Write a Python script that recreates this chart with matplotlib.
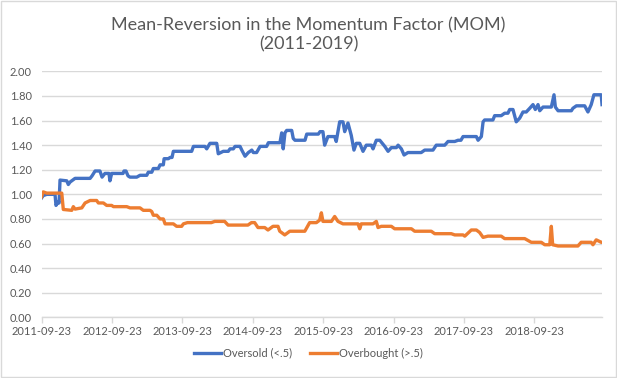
import matplotlib.pyplot as plt
import matplotlib.patches as patches
import pandas as pd

# values (days counted from 2011-09-23)
start = pd.Timestamp('2011-09-23')

oversold_days = [0, 9, 27, 70, 75, 87, 91, 96, 131, 139, 148, 174, 252, 262, 278, 303,
                 314, 329, 350, 355, 364, 423, 428, 438, 449, 459, 494, 511, 546, 554,
                 572, 580, 606, 615, 632, 636, 658, 667, 677, 684, 779, 788, 848, 857,
                 874, 909, 917, 943, 969, 978, 995, 1004, 1030, 1039, 1056, 1073, 1091,
                 1099, 1116, 1134, 1168, 1177, 1237, 1246, 1254, 1263, 1272, 1298, 1306,
                 1315, 1367, 1376, 1436, 1445, 1460, 1469, 1486, 1521, 1529, 1547, 1564,
                 1573, 1590, 1607, 1621, 1633, 1651, 1668, 1685, 1711, 1720, 1737, 1755,
                 1781, 1798, 1815, 1841, 1850, 1867, 1881, 1901, 1970, 1988, 2031, 2048,
                 2092, 2109, 2144, 2161, 2176, 2187, 2256, 2265, 2282, 2291, 2299, 2342,
                 2351, 2385, 2403, 2420, 2429, 2446, 2463, 2481, 2498, 2515, 2533, 2550,
                 2562, 2576, 2585, 2602, 2645, 2659, 2666, 2680, 2749, 2757, 2775, 2818,
                 2835, 2852, 2866, 2904, 2908]
oversold = [0.97, 0.99, 1.00, 1.00, 0.91, 0.94, 0.93, 1.116, 1.11, 1.08, 1.10, 1.13,
            1.13, 1.15, 1.19, 1.19, 1.14, 1.17, 1.17, 1.11, 1.17, 1.17, 1.19, 1.19,
            1.15, 1.14, 1.14, 1.155, 1.155, 1.18, 1.18, 1.21, 1.21, 1.24, 1.24, 1.29,
            1.29, 1.30, 1.30, 1.35, 1.35, 1.39, 1.39, 1.37, 1.415, 1.415, 1.33, 1.35,
            1.35, 1.37, 1.37, 1.39, 1.39, 1.36, 1.31, 1.34, 1.36, 1.34, 1.34, 1.39,
            1.39, 1.42, 1.42, 1.50, 1.37, 1.50, 1.52, 1.52, 1.455, 1.44, 1.44, 1.49,
            1.49, 1.51, 1.51, 1.40, 1.47, 1.47, 1.43, 1.59, 1.59, 1.51, 1.58, 1.48,
            1.36, 1.415, 1.415, 1.35, 1.40, 1.40, 1.37, 1.44, 1.44, 1.39, 1.35, 1.38,
            1.38, 1.40, 1.37, 1.32, 1.34, 1.34, 1.36, 1.36, 1.40, 1.40, 1.43, 1.43,
            1.44, 1.44, 1.47, 1.47, 1.44, 1.47, 1.59, 1.605, 1.605, 1.64, 1.64, 1.66,
            1.66, 1.69, 1.69, 1.59, 1.62, 1.67, 1.67, 1.70, 1.73, 1.69, 1.73, 1.68,
            1.71, 1.71, 1.81, 1.71, 1.68, 1.68, 1.70, 1.72, 1.72, 1.67, 1.73, 1.81,
            1.81, 1.73]

overbought_days = [0, 9, 27, 105, 113, 157, 165, 174, 209, 226, 252, 286, 295, 321,
                   338, 364, 373, 442, 459, 511, 528, 563, 572, 580, 598, 615, 632, 641,
                   684, 701, 727, 736, 757, 881, 899, 950, 968, 1071, 1089, 1106, 1123,
                   1158, 1175, 1201, 1227, 1236, 1262, 1288, 1366, 1391, 1426, 1443,
                   1452, 1460, 1504, 1521, 1538, 1564, 1642, 1651, 1659, 1720, 1737,
                   1746, 1763, 1815, 1832, 1919, 1936, 2022, 2040, 2126, 2144, 2187,
                   2196, 2230, 2256, 2273, 2291, 2316, 2385, 2403, 2507, 2541, 2593,
                   2611, 2637, 2645, 2652, 2680, 2783, 2800, 2852, 2861, 2878, 2904, 2908]
overbought = [0.98, 1.02, 1.01, 1.01, 0.877, 0.87, 0.90, 0.88, 0.89, 0.93, 0.95, 0.95,
              0.93, 0.93, 0.91, 0.91, 0.90, 0.90, 0.89, 0.89, 0.87, 0.87, 0.86, 0.83,
              0.83, 0.80, 0.80, 0.76, 0.76, 0.74, 0.74, 0.76, 0.77, 0.77, 0.78, 0.78,
              0.75, 0.75, 0.77, 0.77, 0.73, 0.73, 0.71, 0.74, 0.74, 0.70, 0.67, 0.70,
              0.70, 0.77, 0.77, 0.79, 0.85, 0.78, 0.78, 0.82, 0.78, 0.76, 0.76, 0.72,
              0.76, 0.76, 0.78, 0.73, 0.74, 0.74, 0.72, 0.72, 0.70, 0.70, 0.68, 0.68,
              0.67, 0.67, 0.66, 0.71, 0.71, 0.69, 0.65, 0.66, 0.66, 0.64, 0.64, 0.61,
              0.61, 0.59, 0.59, 0.74, 0.59, 0.58, 0.58, 0.61, 0.61, 0.59, 0.63, 0.61,
              0.61]

tick_labels = ['2011-09-23', '2012-09-23', '2013-09-23', '2014-09-23',
               '2015-09-23', '2016-09-23', '2017-09-23', '2018-09-23']
y_ticks = [0.0, 0.2, 0.4, 0.6, 0.8, 1.0, 1.2, 1.4, 1.6, 1.8, 2.0]

plt.rcParams['font.family'] = ['Lato', 'DejaVu Sans']
text_color = '#595959'
grid_color = '#d9d9d9'

fig = plt.figure(figsize=(6.17, 3.78), dpi=100)
ax = fig.add_axes([0.0673, 0.1606, 0.9084, 0.6505])

x_over = start + pd.to_timedelta(oversold_days, unit='D')
x_bought = start + pd.to_timedelta(overbought_days, unit='D')
ax.plot(x_over, oversold, color='#4472C4', lw=2.4, label='Oversold (<.5)',
        solid_joinstyle='round')
ax.plot(x_bought, overbought, color='#ED7D31', lw=2.4, label='Overbought (>.5)',
        solid_joinstyle='round')

ax.set_xlim(start, start + pd.Timedelta(days=2908))
ax.set_ylim(0, 2.0)
ax.set_yticks(y_ticks)
ax.set_yticklabels([f'{v:.2f}' for v in y_ticks])
ax.set_xticks(pd.to_datetime(tick_labels))
ax.set_xticklabels(tick_labels)
ax.grid(axis='y', color=grid_color, lw=1)
ax.set_axisbelow(True)
for s in ['top', 'right', 'left']:
    ax.spines[s].set_visible(False)
ax.spines['bottom'].set_color(grid_color)
ax.spines['bottom'].set_linewidth(1)
ax.tick_params(axis='y', length=0, pad=7, labelsize=8, labelcolor=text_color)
ax.tick_params(axis='x', length=4, width=1, color=grid_color, pad=2,
               labelsize=8, labelcolor=text_color)

fig.text(0.5, 1 - 35 / 378, 'Mean-Reversion in the Momentum Factor (MOM)\n(2011-2019)',
         ha='center', va='center', fontsize=13, color=text_color, linespacing=1.2)

fig.legend(loc='center', bbox_to_anchor=(0.5, 1 - 353 / 378), ncol=2, frameon=False,
           fontsize=8, labelcolor=text_color, handlelength=2.4, handletextpad=0.2,
           columnspacing=1.6)

fig.patches.append(patches.Rectangle((0.001, 0.002), 0.997, 0.995, transform=fig.transFigure,
                                     fill=False, edgecolor=grid_color, lw=1))

fig.savefig('out.png', dpi=100)
